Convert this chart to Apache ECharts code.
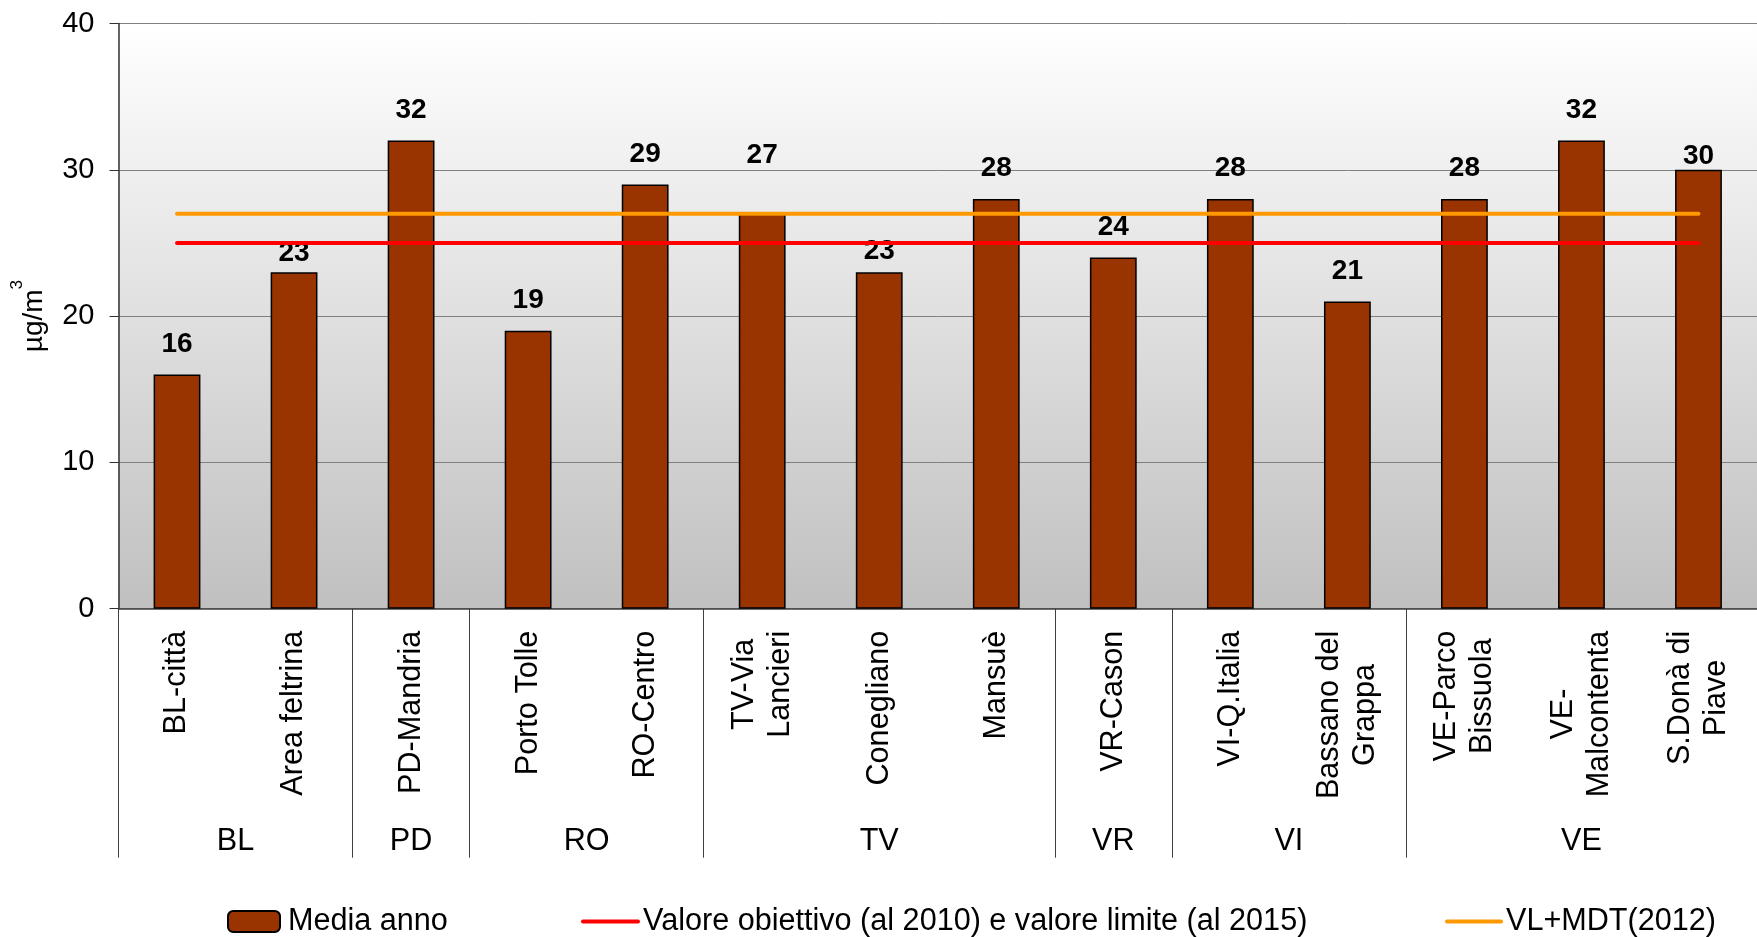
<!DOCTYPE html>
<html>
<head>
<meta charset="utf-8">
<script src="https://cdn.jsdelivr.net/npm/echarts@6/dist/echarts.min.js"></script>
<style>
  html, body { margin: 0; padding: 0; background: #fff; }
  #chart { width: 1757px; height: 937px; }
</style>
</head>
<body>
<div id="chart"></div>
<script>
// stations and annual means (µg/m3)
const stations = ['BL-città', 'Area feltrina', 'PD-Mandria', 'Porto Tolle', 'RO-Centro', 'TV-Via\nLancieri', 'Conegliano', 'Mansuè', 'VR-Cason', 'VI-Q.Italia', 'Bassano del\nGrappa', 'VE-Parco\nBissuola', 'VE-\nMalcontenta', 'S.Donà di\nPiave']
const mediaAnno = [16, 23, 32, 19, 29, 27, 23, 28, 24, 28, 21, 28, 32, 30]
const valoreLimite = [25, 25, 25, 25, 25, 25, 25, 25, 25, 25, 25, 25, 25, 25]
const vlMdt = [27, 27, 27, 27, 27, 27, 27, 27, 27, 27, 27, 27, 27, 27]

// province groups on the second axis level
const provinces = ['BL', 'PD', 'RO', 'TV', 'VR', 'VI', 'VE']
const provinceSizes = [2, 1, 2, 3, 1, 2, 3]

const yTicks = { min: 0, max: 40, interval: 10 }

const FONT = '"Liberation Sans", Arial, sans-serif'
const LABEL_SIZE = 30.6

// boundaries and centres of the groups, in category units
const provinceBounds = [0]
const provinceCenters = []
provinceSizes.forEach(function(n) {
  const start = provinceBounds[provinceBounds.length - 1]
  provinceCenters.push(start + n / 2)
  provinceBounds.push(start + n)
})

// small vertical nudges of the data labels, as in the original
const labelShift = [0, 12, 0, 0, 0, -28, 10, 0, 0, 0, 0, 0, 0, 17]

// two-line station names have their lines centred: use centre alignment
// and push the block back so that its top still sits under the axis
const ctx = document.createElement('canvas').getContext('2d')
ctx.font = LABEL_SIZE + 'px "Liberation Sans"'
const stationData = stations.map(function(s) {
  const lines = s.split('\n')
  if (lines.length < 2) return s
  const maxW = Math.max.apply(null, lines.map(function(l) { return ctx.measureText(l).width }))
  return { value: s, textStyle: { align: 'center', padding: [0, maxW, 0, 0] } }
})

const chart = echarts.init(document.getElementById('chart'))

const legendText = { fontSize: LABEL_SIZE, color: '#000', fontFamily: FONT }

chart.setOption({
  animation: false,
  backgroundColor: '#fff',
  textStyle: { fontFamily: FONT },
  grid: {
    left: 118.5,
    top: 23.5,
    right: -19,
    bottom: 328.3,
    show: true,
    borderWidth: 0,
    backgroundColor: new echarts.graphic.LinearGradient(0, 0, 0, 1, [
      { offset: 0, color: '#ffffff' },
      { offset: 1, color: '#c0c0c0' }
    ])
  },
  legend: [
    {
      data: ['Media anno'],
      left: 227, top: 906, padding: 0,
      itemWidth: 52, itemHeight: 21,
      textStyle: Object.assign({ padding: [0, 0, 0, 3] }, legendText)
    },
    {
      data: ['Valore obiettivo (al 2010) e valore limite (al 2015)'],
      left: 581, top: 906, padding: 0,
      itemWidth: 55, itemHeight: 21,
      itemStyle: { opacity: 0 },
      lineStyle: { width: 4, cap: 'round' },
      textStyle: legendText
    },
    {
      data: ['VL+MDT(2012)'],
      left: 1445, top: 906, padding: 0,
      itemWidth: 54, itemHeight: 21,
      itemStyle: { opacity: 0 },
      lineStyle: { width: 4, cap: 'round' },
      textStyle: legendText
    }
  ],
  xAxis: [
    {
      type: 'category',
      data: stationData,
      position: 'bottom',
      axisLine: { lineStyle: { color: '#404040', width: 1.5 } },
      axisTick: { interval: 0, length: 189, lineStyle: { color: '#404040', width: 1 } },
      axisLabel: {
        interval: 0,
        rotate: 90,
        margin: 22,
        fontSize: LABEL_SIZE,
        lineHeight: 36,
        color: '#000',
        fontFamily: FONT
      }
    },
    {
      type: 'value',
      min: 0,
      max: stations.length,
      position: 'bottom',
      axisLine: { show: false },
      splitLine: { show: false },
      axisTick: {
        show: true,
        customValues: provinceBounds,
        length: 249,
        lineStyle: { color: '#404040', width: 1 }
      },
      axisLabel: {
        customValues: provinceCenters,
        margin: 217,
        fontSize: LABEL_SIZE,
        color: '#000',
        fontFamily: FONT,
        formatter: function(v) {
          return provinces[provinceCenters.indexOf(v)]
        }
      }
    }
  ],
  yAxis: {
    type: 'value',
    min: yTicks.min,
    max: yTicks.max,
    interval: yTicks.interval,
    name: '{b|µg/m}{sup|3}',
    nameLocation: 'middle',
    nameRotate: 90,
    nameGap: 70,
    nameTextStyle: {
      rich: {
        b: { fontSize: 28, color: '#000', fontFamily: FONT, verticalAlign: 'bottom', padding: [12, 0, 0, 0] },
        sup: { fontSize: 17, color: '#000', fontFamily: FONT, verticalAlign: 'top' }
      }
    },
    axisLine: { show: true, lineStyle: { color: '#303030', width: 1.5 } },
    axisTick: { show: true, length: 9, lineStyle: { color: '#303030' } },
    axisLabel: { margin: 24, fontSize: 29, color: '#000', fontFamily: FONT },
    splitLine: { show: true, lineStyle: { color: '#808080', width: 1 } }
  },
  series: [
    {
      name: 'Media anno',
      type: 'bar',
      xAxisIndex: 0,
      barWidth: '40%',
      data: mediaAnno.map(function(v, i) {
        return { value: v, label: { offset: [0, labelShift[i]] } }
      }),
      itemStyle: { color: '#993300', borderColor: '#000', borderWidth: 1.5 },
      label: {
        show: true,
        position: 'top',
        distance: 16.5,
        fontSize: 28,
        fontWeight: 'bold',
        color: '#000',
        fontFamily: FONT
      }
    },
    {
      name: 'Valore obiettivo (al 2010) e valore limite (al 2015)',
      type: 'line',
      xAxisIndex: 0,
      data: valoreLimite,
      symbol: 'none',
      lineStyle: { color: '#ff0000', width: 4, cap: 'round' },
      itemStyle: { color: '#ff0000' }
    },
    {
      name: 'VL+MDT(2012)',
      type: 'line',
      xAxisIndex: 0,
      data: vlMdt,
      symbol: 'none',
      lineStyle: { color: '#ff9900', width: 4, cap: 'round' },
      itemStyle: { color: '#ff9900' }
    }
  ]
})
</script>
</body>
</html>
